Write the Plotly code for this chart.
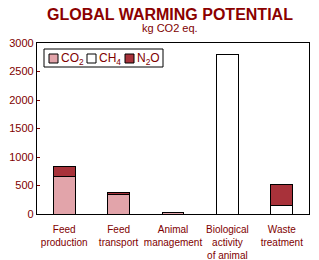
import plotly.graph_objects as go

categories = ["Feed<br>production", "Feed<br>transport", "Animal<br>management",
              "Biological<br>activity<br>of animal", "Waste<br>treatment"]
co2 = [650, 345, 35, None, None]
ch4 = [None, None, None, 2790, 150]
n2o = [190, 25, None, None, 360]

series_names = ["CO<sub>2</sub>", "CH<sub>4</sub>", "N<sub>2</sub>O"]
series_colors = ["#E2A4AA", "white", "#A8323A"]
series_values = [co2, ch4, n2o]

TXT = "#800000"
L, R, T, B = 37, 10, 43, 46
W, H = 319, 260
pw, ph = W - L - R, H - T - B

fig = go.Figure()
for nm, col, vals in zip(series_names, series_colors, series_values):
    fig.add_trace(go.Bar(x=categories, y=vals, name=nm, showlegend=False,
                         marker=dict(color=col, line=dict(color="black", width=1))))

# manual compact legend (paper coords from pixels)
def px(x):
    return (x - L) / pw
def py(y):
    return (H - B - y) / ph

shapes = [dict(type="rect", xref="paper", yref="paper",
               x0=px(44), x1=px(163), y0=py(67), y1=py(49),
               line=dict(color="black", width=1), fillcolor="white")]
annots = []
sq_x = [49, 87, 125]
for nm, col, sx in zip(series_names, series_colors, sq_x):
    shapes.append(dict(type="rect", xref="paper", yref="paper",
                       x0=px(sx), x1=px(sx + 9), y0=py(63), y1=py(54),
                       line=dict(color="black", width=1), fillcolor=col))
    annots.append(dict(text=nm, x=px(sx + 10), y=py(58.5), xref="paper", yref="paper",
                       xanchor="left", yanchor="middle", showarrow=False,
                       font=dict(size=12, color=TXT)))

annots += [
    dict(text="<b>GLOBAL WARMING POTENTIAL</b>", x=px(169.5), y=py(4), xref="paper", yref="paper",
         xanchor="center", yanchor="top", showarrow=False,
         font=dict(size=16, color="#8B0000")),
    dict(text="kg CO2 eq.", x=px(169.5), y=py(20), xref="paper", yref="paper",
         xanchor="center", yanchor="top", showarrow=False,
         font=dict(size=11, color=TXT)),
]

fig.update_layout(
    barmode="stack", bargap=0.6,
    width=W, height=H,
    margin=dict(l=L, r=R, t=T, b=B, autoexpand=False),
    paper_bgcolor="white", plot_bgcolor="white",
    font=dict(family="Liberation Sans, Arial", color=TXT, size=11),
    showlegend=False,
    shapes=shapes, annotations=annots,
)
fig.update_xaxes(showline=True, linecolor="black", linewidth=1.3, mirror=True, automargin=False,
                 ticks="", tickfont=dict(size=10, color=TXT), ticklabelstandoff=6)
fig.update_yaxes(range=[0, 3000], dtick=500, showline=True, linecolor="black", linewidth=1.3,
                 mirror=True, showgrid=False, zeroline=False, ticks="inside", ticklen=3,
                 automargin=False, tickcolor=TXT, tickfont=dict(size=11, color=TXT))
fig.write_html("out.html")
